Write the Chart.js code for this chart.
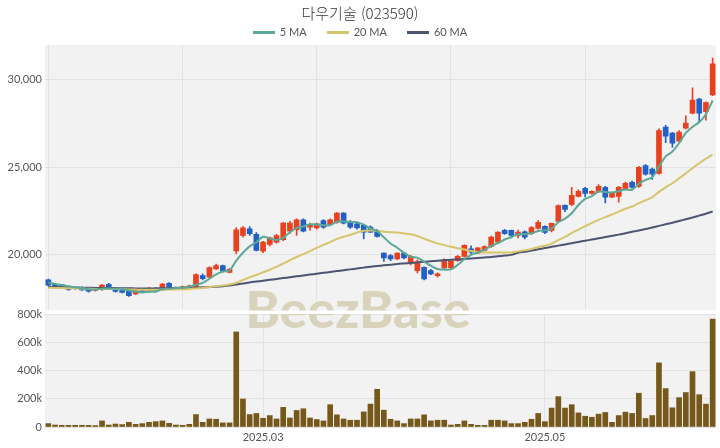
<!DOCTYPE html>
<html lang="ko">
<head>
<meta charset="utf-8">
<title>다우기술 (023590)</title>
<script src="https://cdn.jsdelivr.net/npm/chart.js@4.4.1/dist/chart.umd.min.js"></script>
<style>
  html, body { margin: 0; padding: 0; background: #fff; }
  #wrap { position: relative; width: 720px; height: 448px; overflow: hidden; font-family: 'Lato', 'Noto Sans', sans-serif; }
  #priceBox { position: absolute; left: 0; top: 0; width: 720px; height: 320px; }
  #volBox { position: absolute; left: 0; top: 296px; width: 720px; height: 152px; }
  #title { position: absolute; left: 0; top: 3px; width: 720px; text-align: center; font-family: 'Noto Sans CJK KR', sans-serif; font-weight: 300; font-size: 15px; line-height: 20px; color: #333; }
  #legend { position: absolute; left: 0; top: 25px; width: 720px; display: flex; justify-content: center; gap: 20px; font-size: 11px; line-height: 14px; color: #555; }
  .item { display: flex; align-items: center; }
  .swatch { width: 22px; height: 3px; margin-right: 5px; }
</style>
</head>
<body>
<div id="wrap">
  <div id="priceBox"><canvas id="priceChart" width="720" height="320"></canvas></div>
  <div id="volBox"><canvas id="volChart" width="720" height="152"></canvas></div>
  <div id="title">다우기술 (023590)</div>
  <div id="legend"></div>
</div>
<script>
const maNames = ['5 MA', '20 MA', '60 MA'];
const priceTicks = [20000, 25000, 30000];
const volumeTicks = [0, 200000, 400000, 600000, 800000];
const monthTickIndex = [32, 74];
const monthTickLabels = ['2025.03', '2025.05'];

const opens = [
  18550,18300,18280,18150,18060,18100,18000,17950,18000,18300,
  18080,18030,17950,17740,18030,17890,18080,17970,18350,18080,
  18100,18150,18160,18800,18700,19180,19370,18980,20200,21090,
  21470,21150,20190,20580,20710,20850,21340,21420,21990,21570,
  21530,21950,21720,21860,22370,21860,21760,21670,21570,21380,
  20080,19940,19750,20080,19560,19080,19270,19080,18790,19240,
  19240,19650,19890,20320,20080,20230,20460,20710,21380,21380,
  21090,21300,21200,21500,21610,21380,21900,22820,22870,23330,
  23790,23500,23600,23850,23280,23330,23740,24130,23900,25100,
  24900,24650,27300,26950,26490,27240,28100,28900,28180,29140
];
const closes = [
  18250,18180,18150,18000,18040,17980,17900,18050,18250,18100,
  17890,17830,17650,17970,17830,18080,17890,18310,18080,18050,
  18150,18200,18850,18620,19250,19370,19040,19150,21420,21530,
  21190,20230,20710,20960,21090,21800,21800,21990,21340,21720,
  21760,21570,21990,22370,21800,21570,21530,21280,21280,21030,
  19810,19750,20080,19810,19890,19600,18600,18890,18890,19700,
  19650,19890,20520,20130,20380,20460,21000,21280,21190,21090,
  21280,21000,21550,21840,21260,21780,22800,22590,23390,23620,
  23500,23620,23900,23280,23500,23850,24080,23850,25000,24600,
  24600,27100,26780,26380,27010,27530,28850,28100,28700,30920
];
const highs = [
  18600,18350,18300,18200,18100,18150,18050,18100,18300,18350,
  18100,18050,17950,18000,18050,18100,18100,18350,18400,18150,
  18200,18250,18900,18900,19300,19450,19400,19200,21550,21600,
  21600,21250,20750,21000,21150,21850,21900,22050,22050,21800,
  21800,22000,22050,22400,22400,21950,21800,21700,21650,21450,
  20100,20000,20100,20100,19950,19700,19300,19150,18950,19750,
  19700,19950,20550,20500,20400,20500,21050,21300,21450,21400,
  21400,21350,21600,21950,21650,21800,22850,22850,23850,23700,
  23850,23650,24000,23900,23550,23900,24150,24200,25050,25150,
  24950,27200,27400,27000,27100,27950,29550,28950,28750,31250
];
const lows = [
  18200,18100,18100,17950,18000,17950,17850,17900,17950,18050,
  17850,17800,17600,17700,17800,17850,17850,17950,18050,18000,
  18050,18100,18150,18550,18650,19150,19000,18950,20050,21000,
  21100,20200,20100,20500,20650,20800,21200,21100,21300,21400,
  21450,21500,21650,21800,21750,21500,21450,20900,21250,21000,
  19600,19650,19700,19750,19400,18950,18550,18850,18700,19200,
  19200,19600,19850,20050,20050,20200,20400,20650,21150,20950,
  20950,20900,21150,21450,21200,21300,21850,22450,22800,23300,
  23300,23450,23550,22950,23250,23000,23700,23800,23850,24550,
  24300,24600,26400,26150,26450,27200,28050,27600,27700,29100
];
const volumes = [
  24000,14000,12000,12000,12000,12000,12000,10000,43000,14000,
  21000,17000,33000,19000,24000,33000,38000,43000,26000,14000,
  12000,19000,88000,33000,57000,55000,29000,29000,673000,198000,
  88000,96000,62000,81000,57000,139000,64000,117000,129000,64000,
  53000,43000,158000,86000,57000,48000,48000,107000,162000,267000,
  119000,55000,43000,24000,57000,57000,86000,43000,48000,48000,
  14000,19000,43000,19000,12000,12000,48000,48000,43000,24000,
  24000,33000,55000,96000,38000,134000,215000,134000,158000,100000,
  76000,69000,91000,103000,33000,81000,105000,96000,239000,60000,
  81000,454000,272000,136000,208000,244000,392000,229000,162000,764000
];
const ma5 = [
  18390,18320,18250,18180,18126,18072,18016,17996,18046,18056,
  18038,18024,17944,17888,17834,17873,17885,18018,18041,18085,
  18098,18160,18267,18374,18614,18858,19026,19086,19646,20102,
  20466,20704,21016,20924,20836,20958,21272,21528,21604,21730,
  21722,21676,21676,21882,21898,21860,21852,21710,21492,21338,
  20986,20630,20389,20095,19867,19825,19595,19358,19174,19136,
  19147,19405,19731,19979,20115,20276,20497,20649,20861,21003,
  21167,21168,21222,21352,21386,21486,21849,22057,22367,22839,
  23183,23344,23606,23584,23560,23630,23722,23712,24056,24276,
  24426,25035,25621,25897,26379,26965,27310,27574,28038,28820
];
const ma20 = [
  18100,18090,18080,18070,18060,18050,18040,18030,18030,18030,
  18020,18010,18000,17990,17980,17980,17985,17990,17995,18000,
  18010,18030,18060,18090,18130,18180,18230,18280,18380,18540,
  18700,18830,18980,19130,19290,19480,19680,19860,20020,20200,
  20380,20550,20710,20900,21020,21130,21260,21360,21380,21360,
  21300,21280,21260,21210,21160,21060,20910,20760,20640,20540,
  20440,20360,20290,20200,20150,20120,20110,20110,20110,20120,
  20180,20240,20320,20420,20500,20620,20830,21010,21240,21430,
  21620,21810,21980,22140,22290,22460,22620,22750,22940,23110,
  23280,23590,23850,24080,24360,24650,24950,25230,25490,25730
];
const ma60 = [
  18150,18140,18130,18120,18110,18100,18095,18090,18085,18080,
  18075,18070,18065,18060,18060,18060,18060,18065,18065,18070,
  18075,18085,18100,18120,18140,18160,18190,18230,18280,18340,
  18400,18450,18500,18550,18600,18650,18700,18750,18800,18850,
  18900,18950,19000,19050,19100,19150,19200,19250,19300,19340,
  19380,19420,19460,19490,19520,19550,19580,19610,19640,19670,
  19700,19720,19745,19770,19800,19830,19860,19900,19940,19980,
  20100,20160,20230,20300,20370,20440,20510,20580,20650,20720,
  20790,20860,20930,21000,21070,21140,21220,21300,21380,21460,
  21550,21640,21730,21820,21920,22020,22120,22230,22340,22460
];

const labels = closes.map((_, i) => i);

const COLORS = {
  up: '#e8411f',
  down: '#2160c4',
  volume: '#76591a',
  ma: ['#5ba899', '#d6c56c', '#4c5470'],
  grid: '#e2e2e2',
  plot: '#f2f2f2',
  tick: '#555'
};
const tickFont = { family: "'Lato', 'Noto Sans', sans-serif", size: 11 };

// legend in html
const legendEl = document.getElementById('legend');
maNames.forEach((name, i) => {
  const item = document.createElement('div');
  item.className = 'item';
  item.innerHTML = '<span class="swatch" style="background:' + COLORS.ma[i] + '"></span>' + name;
  legendEl.appendChild(item);
});

// plot background + watermark, clipped to each chart area
const plotBg = {
  id: 'plotBg',
  beforeDraw(chart, args, opts) {
    const { ctx, chartArea: a } = chart;
    ctx.save();
    ctx.fillStyle = COLORS.plot;
    ctx.fillRect(a.left, a.top, a.width, a.height);
    ctx.restore();
  },
  beforeDatasetsDraw(chart, args, opts) {
    const { ctx, chartArea: a } = chart;
    ctx.save();
    ctx.beginPath();
    ctx.rect(a.left, a.top, a.width, a.height);
    ctx.clip();
    ctx.font = "900 52px 'Lato'";
    ctx.fillStyle = '#d9d3bb';
    ctx.textAlign = 'center';
    ctx.textBaseline = 'alphabetic';
    ctx.fillText('BeezBase', 358, 328 - opts.offsetY);
    ctx.restore();
  }
};

const candleColors = opens.map((o, i) => closes[i] >= o ? COLORS.up : COLORS.down);

new Chart(document.getElementById('priceChart'), {
  type: 'bar',
  data: {
    labels: labels,
    datasets: [
      { type: 'line', label: maNames[0], data: ma5, borderColor: COLORS.ma[0], borderWidth: 2, pointRadius: 0, tension: 0.3, order: 0 },
      { type: 'line', label: maNames[1], data: ma20, borderColor: COLORS.ma[1], borderWidth: 2, pointRadius: 0, tension: 0.3, order: 0 },
      { type: 'line', label: maNames[2], data: ma60, borderColor: COLORS.ma[2], borderWidth: 2, pointRadius: 0, tension: 0.3, order: 0 },
      {
        label: 'wick',
        data: lows.map((l, i) => [l, highs[i]]),
        backgroundColor: candleColors,
        barThickness: 1,
        grouped: false,
        order: 2
      },
      {
        label: 'body',
        data: opens.map((o, i) => [o, closes[i]]),
        backgroundColor: candleColors,
        barThickness: 5,
        minBarLength: 1,
        grouped: false,
        order: 1
      }
    ]
  },
  options: {
    responsive: false,
    animation: false,
    layout: { autoPadding: false, padding: { top: 45, right: 4, bottom: 2, left: 0 } },
    scales: {
      x: {
        grid: {
          offset: false,
          drawTicks: false,
          color: ctx => ctx.index % 20 === 0 ? COLORS.grid : 'transparent'
        },
        border: { display: false },
        ticks: { display: false, autoSkip: false },
        afterFit: s => { s.height = 0; }
      },
      y: {
        min: 16800,
        max: 32000,
        afterBuildTicks: s => { s.ticks = priceTicks.map(v => ({ value: v })); },
        ticks: {
          font: tickFont,
          color: COLORS.tick,
          padding: 3,
          callback: v => v.toLocaleString('en-US')
        },
        grid: { color: COLORS.grid, drawTicks: false },
        border: { display: false },
        afterFit: s => { s.width = 45; }
      }
    },
    plugins: {
      legend: { display: false },
      tooltip: { enabled: false },
      plotBg: { offsetY: 0 }
    }
  },
  plugins: [plotBg]
});

new Chart(document.getElementById('volChart'), {
  type: 'bar',
  data: {
    labels: labels,
    datasets: [{
      label: 'Volume',
      data: volumes,
      backgroundColor: COLORS.volume,
      barThickness: 5
    }]
  },
  options: {
    responsive: false,
    animation: false,
    layout: { autoPadding: false, padding: { top: 18, right: 4, bottom: 0, left: 0 } },
    scales: {
      x: {
        grid: {
          offset: false,
          drawTicks: false,
          color: ctx => monthTickIndex.includes(ctx.index) ? COLORS.grid : 'transparent'
        },
        border: { display: false },
        ticks: {
          autoSkip: false,
          maxRotation: 0,
          padding: 4,
          font: tickFont,
          color: COLORS.tick,
          callback: (v, i) => {
            const k = monthTickIndex.indexOf(i);
            return k >= 0 ? monthTickLabels[k] : '';
          }
        },
        afterFit: s => { s.height = 21; }
      },
      y: {
        min: 0,
        max: 800000,
        afterBuildTicks: s => { s.ticks = volumeTicks.map(v => ({ value: v })); },
        ticks: {
          font: tickFont,
          color: COLORS.tick,
          padding: 3,
          callback: v => v === 0 ? '0' : (v / 1000) + 'k'
        },
        grid: { color: COLORS.grid, drawTicks: false },
        border: { display: false },
        afterFit: s => { s.width = 45; }
      }
    },
    plugins: {
      legend: { display: false },
      tooltip: { enabled: false },
      plotBg: { offsetY: 296 }
    }
  },
  plugins: [plotBg]
});
</script>
</body>
</html>
